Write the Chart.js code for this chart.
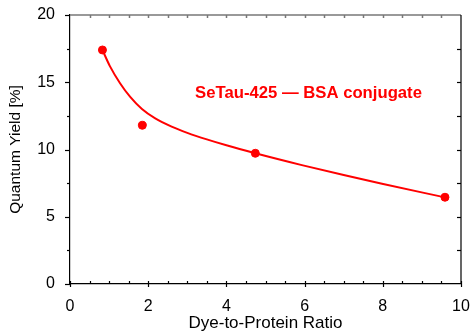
<!DOCTYPE html>
<html>
<head>
<meta charset="utf-8">
<script src="https://cdn.jsdelivr.net/npm/chart.js@4"></script>
<style>
  html, body { margin: 0; padding: 0; background: #fff; }
  #wrap { width: 470px; height: 335px; }
</style>
</head>
<body>
<div id="wrap"><canvas id="grafico" width="470" height="335"></canvas></div>
<script>
// measured points
const ratio = [0.83, 1.85, 4.74, 9.59];
const yieldPct = [17.4, 11.8, 9.72, 6.45];

// fitted curve
const fitX = [0.83, 1.02, 1.28, 1.54, 1.84, 2.18, 2.6, 3.0, 3.5, 4.0, 4.74, 5.93, 7.0, 7.98, 9.59];
const fitY = [17.4, 16.2, 14.93, 13.91, 13.01, 12.31, 11.7, 11.24, 10.75, 10.31, 9.72, 8.84, 8.1, 7.45, 6.44];

const xTicks = [0, 2, 4, 6, 8, 10];
const yTicks = [0, 5, 10, 15, 20];

const label = 'SeTau-425 \u2014 BSA conjugate';
const red = '#ff0000';
const font = '"Liberation Sans", Arial, sans-serif';

// axis frame + Origin-style tick marks
const frame = {
    id: 'frame',
    afterDraw(chart) {
        const c = chart.ctx;
        const a = chart.chartArea;
        const xs = chart.scales.x, ys = chart.scales.y;
        c.save();
        // top axis (grey)
        c.strokeStyle = '#777';
        c.lineWidth = 1.5;
        c.beginPath();
        c.moveTo(a.left, a.top); c.lineTo(a.right, a.top);
        c.stroke();
        for (let v = 0.5; v < 10; v += 0.5) {
            const px = Math.round(xs.getPixelForValue(v)) + 0.5;
            c.beginPath(); c.moveTo(px, a.top); c.lineTo(px, a.top + 3); c.stroke();
        }
        c.strokeStyle = '#000';
        c.lineWidth = 1.2;
        // right axis
        c.beginPath();
        c.moveTo(a.right, a.top); c.lineTo(a.right, a.bottom);
        c.stroke();
        for (let v = 2.5; v < 20; v += 2.5) {
            const py = Math.round(ys.getPixelForValue(v)) + 0.5;
            c.beginPath(); c.moveTo(a.right, py); c.lineTo(a.right - 4, py); c.stroke();
        }
        // bottom ticks
        for (let v = 0; v <= 10; v += 0.5) {
            const px = Math.round(xs.getPixelForValue(v)) + 0.5;
            c.beginPath();
            if (v % 2 === 0) { c.moveTo(px, a.bottom - 3); c.lineTo(px, a.bottom + 3); }
            else { c.moveTo(px, a.bottom); c.lineTo(px, a.bottom - 3); }
            c.stroke();
        }
        // left ticks
        for (let v = 0; v <= 20; v += 2.5) {
            const py = Math.round(ys.getPixelForValue(v)) + 0.5;
            c.beginPath();
            c.moveTo(a.left, py); c.lineTo(a.left - (v % 5 === 0 ? 5 : 3), py);
            c.stroke();
        }
        // annotation
        c.fillStyle = red;
        c.font = 'bold 16.7px ' + font;
        c.textAlign = 'center';
        c.textBaseline = 'middle';
        c.fillText(label, xs.getPixelForValue(6.1), ys.getPixelForValue(14.2));
        c.restore();
    }
};

const ctx = document.getElementById('grafico').getContext('2d');

new Chart(ctx, {
    type: 'scatter',
    data: {
        datasets: [
            {
                type: 'line',
                label: 'fit',
                data: fitX.map((x, i) => ({ x: x, y: fitY[i] })),
                borderColor: red,
                borderWidth: 2,
                pointRadius: 0,
                cubicInterpolationMode: 'monotone',
                fill: false
            },
            {
                label: 'data',
                data: ratio.map((x, i) => ({ x: x, y: yieldPct[i] })),
                backgroundColor: red,
                borderColor: red,
                pointRadius: 4
            }
        ]
    },
    options: {
        responsive: false,
        animation: false,
        layout: { padding: { top: 15, right: 9, left: 0, bottom: 0 } },
        plugins: { legend: { display: false }, tooltip: { enabled: false } },
        scales: {
            x: {
                type: 'linear',
                min: 0, max: 10,
                afterBuildTicks: s => { s.ticks = xTicks.map(v => ({ value: v })); },
                afterFit: s => { s.height = 51; s.paddingLeft = 0; s.paddingRight = 0; },
                grid: { display: false },
                border: { display: true, color: '#000', width: 1.2 },
                ticks: { color: '#000', font: { family: font, size: 16 }, padding: 5, maxRotation: 0 },
                title: { display: true, text: 'Dye-to-Protein Ratio', color: '#000', font: { family: font, size: 17 }, padding: { top: 0, bottom: 1 } }
            },
            y: {
                type: 'linear',
                min: 0, max: 20,
                afterBuildTicks: s => { s.ticks = yTicks.map(v => ({ value: v })); },
                afterFit: s => { s.width = 70; s.paddingTop = 0; s.paddingBottom = 0; },
                grid: { display: false },
                border: { display: true, color: '#000', width: 1.2 },
                ticks: { color: '#000', font: { family: font, size: 16 }, padding: 7 },
                title: { display: true, text: 'Quantum Yield [%]', color: '#000', font: { family: font, size: 15.5 }, padding: { top: 6, bottom: 4 } }
            }
        }
    },
    plugins: [frame]
});
</script>
</body>
</html>
